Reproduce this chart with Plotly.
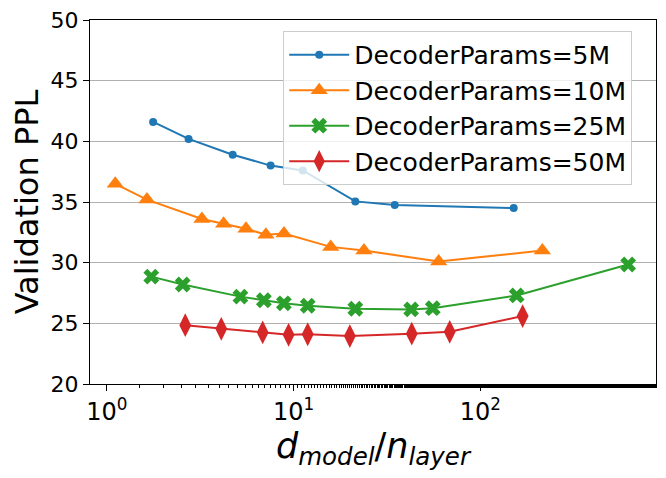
#!/usr/bin/env python3
"""Validation PPL against d_model / n_layer for several decoder sizes."""

import plotly.graph_objects as go

# d_model / n_layer ratios and validation perplexity, per decoder size
x_5m = [1.77, 2.74, 4.72, 7.53, 11.2, 21.4, 34.8, 150.7]
ppl_5m = [41.6, 40.2, 38.9, 38.0, 37.6, 35.05, 34.75, 34.5]

x_10m = [1.11, 1.64, 3.23, 4.22, 5.56, 7.11, 8.88, 15.8, 23.8, 59.8, 214.6]
ppl_10m = [36.5, 35.2, 33.6, 33.2, 32.8, 32.3, 32.4, 31.3, 31.0, 30.1, 31.0]

x_25m = [1.73, 2.55, 5.19, 6.93, 8.87, 11.9, 21.4, 42.6, 55.6, 156.4, 618.0]
ppl_25m = [28.85, 28.2, 27.2, 26.9, 26.65, 26.45, 26.2, 26.15, 26.25, 27.3, 29.85]

x_50m = [2.63, 4.10, 6.83, 9.40, 11.9, 20.0, 42.9, 68.5, 168.3]
ppl_50m = [24.85, 24.55, 24.25, 24.05, 24.1, 23.95, 24.15, 24.3, 25.6]

series_names = [
    "DecoderParams=5M",
    "DecoderParams=10M",
    "DecoderParams=25M",
    "DecoderParams=50M",
]

x_tick_vals = [1, 10, 100]
x_tick_text = ["10<sup>0</sup>", "10<sup>1</sup>", "10<sup>2</sup>"]

FONT = "DejaVu Sans"

styles = [
    dict(color="#1f77b4", symbol="circle", size=8),
    dict(color="#ff7f0e", symbol="triangle-up", size=15),
    dict(color="#2ca02c", symbol="x", size=14),
    dict(color="#d62728", symbol="diamond-tall", size=17),
]

fig = go.Figure()
for name, xs, ys, st in zip(
    series_names,
    [x_5m, x_10m, x_25m, x_50m],
    [ppl_5m, ppl_10m, ppl_25m, ppl_50m],
    styles,
):
    fig.add_trace(
        go.Scatter(
            x=xs,
            y=ys,
            name=name,
            mode="lines+markers",
            line=dict(color=st["color"], width=2),
            marker=dict(color=st["color"], symbol=st["symbol"], size=st["size"], line_width=0),
        )
    )

# page body adds ~8px offset, so margins are shifted to compensate
fig.update_layout(
    width=666,
    height=478,
    margin=dict(l=82, r=18, t=12, b=102),
    plot_bgcolor="white",
    paper_bgcolor="white",
    font=dict(family=FONT, size=24, color="black"),
    legend=dict(
        x=0.958,
        y=0.97,
        xanchor="right",
        yanchor="top",
        bgcolor="rgba(255,255,255,0.8)",
        bordercolor="#cccccc",
        borderwidth=1,
        itemwidth=60,
        font=dict(family=FONT, size=25),
    ),
    showlegend=True,
)

fig.update_xaxes(
    type="log",
    range=[-0.09, 2.94],
    automargin=False,
    tickvals=x_tick_vals,
    ticktext=x_tick_text,
    tickfont=dict(size=24),
    ticks="outside",
    ticklen=6,
    tickcolor="black",
    ticklabeloverflow="allow",
    minor=dict(ticks="outside", ticklen=3, tickcolor="black", showgrid=False),
    showgrid=False,
    showline=True,
    linecolor="black",
    linewidth=1,
    mirror=True,
    zeroline=False,
    title=dict(
        text="<i>d</i><sub><i>model</i></sub>/<i>n</i><sub><i>layer</i></sub>",
        font=dict(family=FONT, size=35),
        standoff=0,
    ),
)
fig.update_yaxes(
    range=[20, 50],
    dtick=5,
    automargin=False,
    tickfont=dict(size=22),
    ticks="outside",
    ticklen=6,
    tickcolor="black",
    ticklabeloverflow="allow",
    showgrid=True,
    gridcolor="#b0b0b0",
    gridwidth=1,
    showline=True,
    linecolor="black",
    linewidth=1,
    mirror=True,
    zeroline=False,
    title=dict(text="Validation PPL", font=dict(family=FONT, size=32), standoff=2),
)

fig.write_html("out.html")
